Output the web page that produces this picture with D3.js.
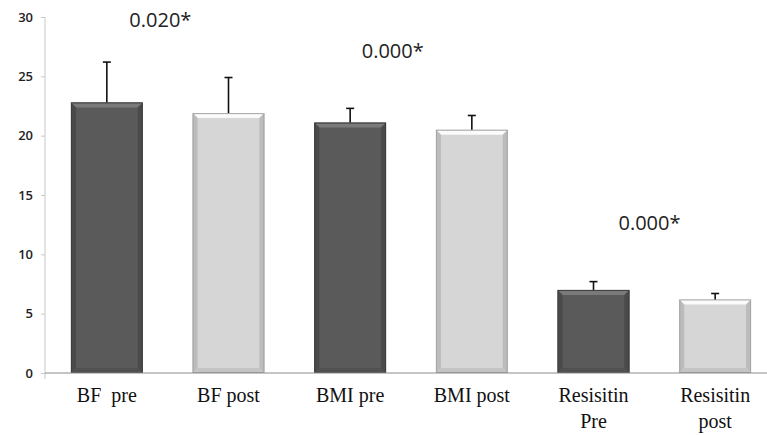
<!DOCTYPE html>
<html>
<head>
<meta charset="utf-8">
<script src="https://cdn.jsdelivr.net/npm/d3@7"></script>
<style>
  html, body { margin: 0; padding: 0; background: #fff; }
  svg { display: block; }
</style>
</head>
<body>
<svg id="chart" width="767" height="435"></svg>
<script>
// ── Data ──
const categories = [['BF  pre'], ['BF post'], ['BMI pre'], ['BMI post'], ['Resisitin', 'Pre'], ['Resisitin', 'post']];
const means = [22.8, 21.9, 21.1, 20.5, 7.0, 6.2];
const errTops = [26.2, 24.9, 22.3, 21.7, 7.7, 6.7];
const phase = ['pre', 'post', 'pre', 'post', 'pre', 'post'];
const pLabels = ['0.020*', '0.000*', '0.000*'];
const pLabelY = [29.6, 27.0, 12.5];
const pLabelX = [0.44, 2.35, 4.46];   // position in band steps from the first bar
const yTicks = [0, 5, 10, 15, 20, 25, 30];

const svg = d3.select('#chart');

const x = d3.scaleBand()
  .domain(d3.range(categories.length))
  .range([46, 776])
  .paddingInner(0.41).paddingOuter(0.205);

const y = d3.scaleLinear().domain([0, 30]).range([373, 17]);

// ── Axes ──
const yAxis = svg.append('g')
  .attr('transform', 'translate(45,0)')
  .call(d3.axisLeft(y).tickValues(yTicks).tickSize(4).tickPadding(8));
yAxis.select('.domain').attr('stroke', '#c8c8c8').attr('d', 'M0,' + y(30) + 'V' + (y(0) + 6));
yAxis.selectAll('.tick line').attr('stroke', '#c8c8c8');
yAxis.selectAll('.tick text')
  .attr('fill', '#222').attr('font-size', '13px')
  .attr('font-family', 'Open Sans, sans-serif').attr('font-weight', 600);

// ── Bars with bevel ──
const fills = {
  pre:  { face: '#5a5a5a', top: '#7a7a7a', side: '#4a4a4a', bottom: '#505050', edge: '#3e3e3e' },
  post: { face: '#d6d6d6', top: '#fbfbfb', side: '#bcbcbc', bottom: '#c4c4c4', edge: '#a4a4a4' }
};
const bev = 5;

const bars = svg.append('g').selectAll('g').data(means).join('g');

bars.each(function(v, i) {
  const g = d3.select(this);
  const c = fills[phase[i]];
  const x0 = x(i), x1 = x(i) + x.bandwidth();
  const y0 = y(v), y1 = y(0);
  g.append('rect')
    .attr('x', x0).attr('y', y0).attr('width', x1 - x0).attr('height', y1 - y0)
    .attr('fill', c.face);
  // top bevel
  g.append('polygon')
    .attr('points', [[x0, y0], [x1, y0], [x1 - bev, y0 + bev], [x0 + bev, y0 + bev]].join(' '))
    .attr('fill', c.top);
  // side bevels
  g.append('polygon')
    .attr('points', [[x0, y0], [x0 + bev, y0 + bev], [x0 + bev, y1 - bev], [x0, y1]].join(' '))
    .attr('fill', c.side);
  g.append('polygon')
    .attr('points', [[x1, y0], [x1 - bev, y0 + bev], [x1 - bev, y1 - bev], [x1, y1]].join(' '))
    .attr('fill', c.side);
  g.append('polygon')
    .attr('points', [[x0, y1], [x0 + bev, y1 - bev], [x1 - bev, y1 - bev], [x1, y1]].join(' '))
    .attr('fill', c.bottom);
  g.append('rect')
    .attr('x', x0 + 0.5).attr('y', y0 + 0.5).attr('width', x1 - x0 - 1).attr('height', y1 - y0 - 1)
    .attr('fill', 'none').attr('stroke', c.edge).attr('stroke-width', 1);
});

// ── Error bars (upper only) ──
const err = svg.append('g').attr('stroke', '#111').attr('stroke-width', 1.6);
errTops.forEach((t, i) => {
  const cx = x(i) + x.bandwidth() / 2;
  err.append('line').attr('x1', cx).attr('x2', cx).attr('y1', y(means[i])).attr('y2', y(t));
  err.append('line').attr('x1', cx - 4).attr('x2', cx + 4).attr('y1', y(t)).attr('y2', y(t));
});

// ── X axis line ──
svg.append('line')
  .attr('x1', 45).attr('x2', 776).attr('y1', y(0)).attr('y2', y(0))
  .attr('stroke', '#8c8c8c').attr('stroke-width', 1.2);

// ── Category labels ──
const labels = svg.append('g')
  .attr('font-family', 'Liberation Serif, Times New Roman, serif')
  .attr('font-size', '20px').attr('fill', '#111').attr('text-anchor', 'middle');
categories.forEach((lines, i) => {
  const t = labels.append('text')
    .attr('x', x(i) + x.bandwidth() / 2).attr('y', 402)
    .attr('xml:space', 'preserve').style('white-space', 'pre');
  lines.forEach((s, k) => {
    t.append('tspan').attr('x', x(i) + x.bandwidth() / 2).attr('dy', k === 0 ? 0 : 26).text(s);
  });
});

// ── p-value annotations ──
const step = x.step();
svg.append('g').selectAll('text').data(pLabels).join('text')
  .attr('x', (d, i) => x(0) + x.bandwidth() / 2 + pLabelX[i] * step)
  .attr('y', (d, i) => y(pLabelY[i]))
  .attr('text-anchor', 'middle').attr('dominant-baseline', 'middle')
  .attr('font-family', 'Open Sans, sans-serif').attr('font-size', '20px')
  .attr('fill', '#222')
  .text(d => d);
</script>
</body>
</html>
